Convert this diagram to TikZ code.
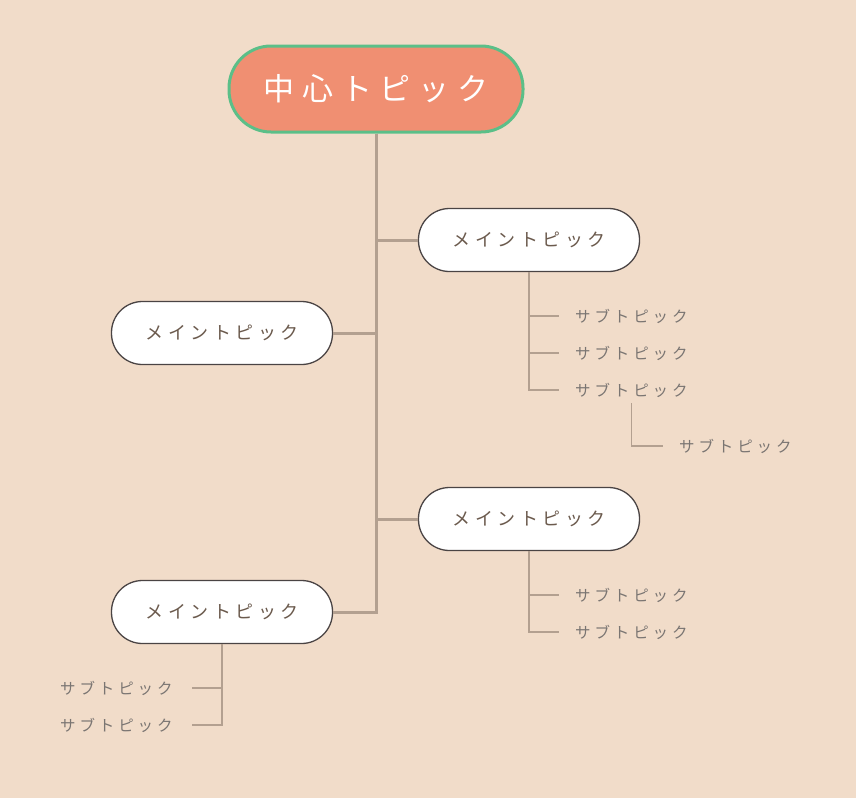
\documentclass[tikz,border=0pt]{standalone}
\usepackage{fontspec}
\newfontfamily\jpfont[LetterSpace=25]{Noto Sans CJK JP}
\usetikzlibrary{positioning}

\definecolor{paper}{HTML}{F1DCC9}
\definecolor{salmon}{HTML}{F08F72}
\definecolor{mint}{HTML}{5BBF88}
\definecolor{branchline}{HTML}{B3A090}
\definecolor{maintext}{HTML}{6B5A4D}
\definecolor{subtext}{HTML}{7A7572}
\definecolor{mainborder}{HTML}{4A4444}

\begin{document}
\begin{tikzpicture}[
  x=1pt, y=-1pt,
  centre/.style={draw=mint, line width=3pt, fill=salmon, rounded corners=42pt, minimum width=294pt, minimum height=86pt, text=white, font=\jpfont\fontsize{31}{37}\selectfont},
  maintopic/.style={draw=mainborder, line width=1.3pt, fill=white, rounded corners=31pt, minimum width=221pt, minimum height=63pt, text=maintext, font=\jpfont\fontsize{18}{22}\selectfont},
  subtopic/.style={inner sep=0pt, anchor=west, text=subtext, font=\jpfont\fontsize{15.5}{19}\selectfont},
  trunk/.style={draw=branchline, line width=3pt},
  twig/.style={draw=branchline, line width=1.5pt}
]
\fill[paper] (0,0) rectangle (856,798);

\node[centre] (centre) at (376,89) {中心トピック};

\node[maintopic] (m1) at (529,240) {メイントピック};
\node[maintopic] (m2) at (222,333) {メイントピック};
\node[maintopic] (m3) at (529,519) {メイントピック};
\node[maintopic] (m4) at (222,612) {メイントピック};

\node[subtopic] (s11) at (575,316) {サブトピック};
\node[subtopic] (s12) at (575,353) {サブトピック};
\node[subtopic] (s13) at (575,390) {サブトピック};
\node[subtopic] (s131) at (679,446) {サブトピック};
\node[subtopic] (s31) at (575,595) {サブトピック};
\node[subtopic] (s32) at (575,632) {サブトピック};
\node[subtopic] (s41) at (60,688) {サブトピック};
\node[subtopic] (s42) at (60,725) {サブトピック};

% trunk and main branches
\draw[trunk] (centre.south) |- (m4.east);
\draw[trunk] (centre.south) |- (m1.west);
\draw[trunk] (centre.south) |- (m2.east);
\draw[trunk] (centre.south) |- (m3.west);

% sub branches
\foreach \s in {s11,s12,s13}
  \draw[twig, shorten >=16pt] (m1.south) |- (\s.west);
\foreach \s in {s31,s32}
  \draw[twig, shorten >=16pt] (m3.south) |- (\s.west);
\foreach \s in {s41,s42}
  \draw[twig, shorten >=19pt] (m4.south) |- (\s.east);
\draw[twig, shorten <=6pt, shorten >=16pt] (s13.south) |- (s131.west);
\end{tikzpicture}
\end{document}
